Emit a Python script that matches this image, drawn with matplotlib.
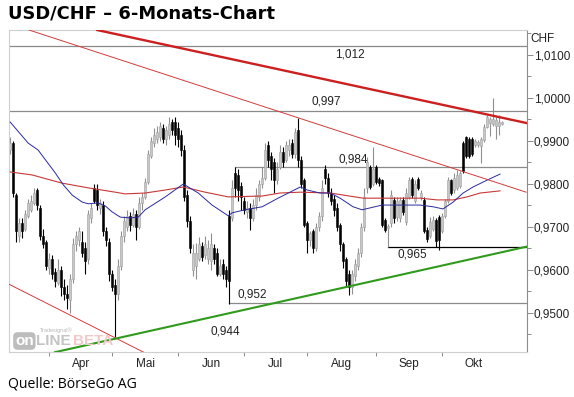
import matplotlib
matplotlib.use("Agg")
import matplotlib.pyplot as plt
from matplotlib.ticker import FixedLocator, FuncFormatter, MultipleLocator
import numpy as np

# ---------------- data (daily OHLC, trading-day index 0 = 15 Mar) ----------------
opens = [0.9880, 0.9895, 0.9775, 0.9680, 0.9710, 0.9695, 0.9725, 0.9740, 0.9755, 0.9785,
         0.9745, 0.9680, 0.9665, 0.9605, 0.9625, 0.9595, 0.9570, 0.9600, 0.9560, 0.9545,
         0.9530, 0.9580, 0.9660, 0.9670, 0.9665, 0.9650, 0.9625, 0.9720, 0.9790, 0.9785,
         0.9745, 0.9750, 0.9690, 0.9665, 0.9590, 0.9565, 0.9545, 0.9610, 0.9680, 0.9700,
         0.9725, 0.9705, 0.9730, 0.9700, 0.9755, 0.9770, 0.9805, 0.9865, 0.9895, 0.9905,
         0.9910, 0.9930, 0.9905, 0.9915, 0.9945, 0.9945, 0.9930, 0.9915, 0.9880, 0.9775,
         0.9715, 0.9600, 0.9610, 0.9625, 0.9655, 0.9635, 0.9625, 0.9620, 0.9650, 0.9640,
         0.9590, 0.9615, 0.9600, 0.9725, 0.9720, 0.9825, 0.9820, 0.9795, 0.9760, 0.9735,
         0.9745, 0.9720, 0.9750, 0.9770, 0.9800, 0.9815, 0.9890, 0.9865, 0.9850, 0.9810,
         0.9840, 0.9875, 0.9855, 0.9880, 0.9895, 0.9870, 0.9925, 0.9855, 0.9810, 0.9710,
         0.9670, 0.9690, 0.9650, 0.9700, 0.9725, 0.9835, 0.9815, 0.9780, 0.9765, 0.9745,
         0.9705, 0.9660, 0.9625, 0.9590, 0.9560, 0.9585, 0.9610, 0.9640, 0.9700, 0.9790,
         0.9840, 0.9800, 0.9840, 0.9812, 0.9809, 0.9716, 0.9698, 0.9709, 0.9763, 0.9723,
         0.9720, 0.9763, 0.9712, 0.9770, 0.9812, 0.9760, 0.9812, 0.9770, 0.9763, 0.9693,
         0.9680, 0.9695, 0.9716, 0.9723, 0.9690, 0.9725, 0.9760, 0.9810, 0.9785, 0.9790,
         0.9795, 0.9895, 0.9909, 0.9905, 0.9905, 0.9890, 0.9890, 0.9888, 0.9902, 0.9933,
         0.9942, 0.9940, 0.9935, 0.9935, 0.9940]
highs = [0.9910, 0.9900, 0.9780, 0.9720, 0.9720, 0.9740, 0.9765, 0.9775, 0.9790, 0.9790,
         0.9750, 0.9695, 0.9670, 0.9640, 0.9635, 0.9605, 0.9625, 0.9610, 0.9580, 0.9565,
         0.9590, 0.9675, 0.9690, 0.9700, 0.9690, 0.9665, 0.9740, 0.9755, 0.9800, 0.9800,
         0.9765, 0.9760, 0.9700, 0.9675, 0.9600, 0.9580, 0.9625, 0.9690, 0.9725, 0.9740,
         0.9735, 0.9745, 0.9740, 0.9770, 0.9780, 0.9815, 0.9880, 0.9910, 0.9930, 0.9935,
         0.9945, 0.9940, 0.9935, 0.9955, 0.9952, 0.9955, 0.9945, 0.9925, 0.9890, 0.9785,
         0.9725, 0.9660, 0.9662, 0.9676, 0.9665, 0.9680, 0.9670, 0.9686, 0.9660, 0.9650,
         0.9625, 0.9625, 0.9610, 0.9740, 0.9810, 0.9840, 0.9835, 0.9805, 0.9770, 0.9760,
         0.9755, 0.9765, 0.9790, 0.9810, 0.9840, 0.9895, 0.9900, 0.9875, 0.9860, 0.9850,
         0.9890, 0.9885, 0.9900, 0.9905, 0.9905, 0.9930, 0.9953, 0.9865, 0.9815, 0.9715,
         0.9690, 0.9695, 0.9710, 0.9735, 0.9810, 0.9845, 0.9825, 0.9790, 0.9775, 0.9755,
         0.9710, 0.9665, 0.9630, 0.9600, 0.9600, 0.9625, 0.9650, 0.9710, 0.9790, 0.9863,
         0.9845, 0.9886, 0.9845, 0.9816, 0.9812, 0.9720, 0.9708, 0.9786, 0.9770, 0.9770,
         0.9770, 0.9770, 0.9790, 0.9816, 0.9816, 0.9809, 0.9816, 0.9786, 0.9770, 0.9700,
         0.9723, 0.9725, 0.9720, 0.9728, 0.9733, 0.9765, 0.9816, 0.9812, 0.9826, 0.9833,
         0.9830, 0.9900, 0.9912, 0.9909, 0.9909, 0.9905, 0.9902, 0.9909, 0.9940, 0.9960,
         0.9956, 1.0000, 0.9955, 0.9960, 0.9946]
lows = [0.9870, 0.9770, 0.9665, 0.9665, 0.9675, 0.9690, 0.9720, 0.9735, 0.9750, 0.9740,
        0.9670, 0.9650, 0.9600, 0.9590, 0.9580, 0.9560, 0.9565, 0.9540, 0.9530, 0.9510,
        0.9500, 0.9570, 0.9645, 0.9655, 0.9630, 0.9590, 0.9615, 0.9710, 0.9755, 0.9740,
        0.9730, 0.9680, 0.9655, 0.9575, 0.9550, 0.9444, 0.9530, 0.9600, 0.9665, 0.9690,
        0.9690, 0.9700, 0.9670, 0.9695, 0.9740, 0.9765, 0.9800, 0.9860, 0.9885, 0.9895,
        0.9900, 0.9895, 0.9890, 0.9905, 0.9915, 0.9890, 0.9885, 0.9865, 0.9760, 0.9700,
        0.9640, 0.9585, 0.9580, 0.9620, 0.9620, 0.9625, 0.9615, 0.9600, 0.9615, 0.9585,
        0.9585, 0.9580, 0.9560, 0.9520, 0.9715, 0.9770, 0.9760, 0.9740, 0.9730, 0.9720,
        0.9693, 0.9715, 0.9740, 0.9760, 0.9790, 0.9810, 0.9840, 0.9810, 0.9780, 0.9800,
        0.9835, 0.9840, 0.9850, 0.9865, 0.9860, 0.9860, 0.9840, 0.9790, 0.9700, 0.9640,
        0.9655, 0.9640, 0.9645, 0.9690, 0.9715, 0.9800, 0.9770, 0.9750, 0.9725, 0.9690,
        0.9645, 0.9605, 0.9560, 0.9542, 0.9545, 0.9575, 0.9600, 0.9630, 0.9690, 0.9779,
        0.9788, 0.9795, 0.9800, 0.9795, 0.9700, 0.9688, 0.9653, 0.9700, 0.9710, 0.9715,
        0.9712, 0.9728, 0.9705, 0.9765, 0.9768, 0.9756, 0.9785, 0.9763, 0.9686, 0.9665,
        0.9675, 0.9690, 0.9653, 0.9647, 0.9685, 0.9720, 0.9756, 0.9775, 0.9780, 0.9786,
        0.9790, 0.9826, 0.9860, 0.9860, 0.9865, 0.9886, 0.9886, 0.9849, 0.9898, 0.9930,
        0.9912, 0.9935, 0.9905, 0.9915, 0.9938]
closes = [0.9895, 0.9780, 0.9690, 0.9710, 0.9690, 0.9730, 0.9755, 0.9760, 0.9780, 0.9750,
          0.9680, 0.9660, 0.9610, 0.9625, 0.9590, 0.9575, 0.9600, 0.9560, 0.9545, 0.9535,
          0.9580, 0.9660, 0.9680, 0.9690, 0.9640, 0.9620, 0.9730, 0.9745, 0.9760, 0.9750,
          0.9755, 0.9690, 0.9670, 0.9590, 0.9560, 0.9545, 0.9610, 0.9680, 0.9715, 0.9725,
          0.9705, 0.9730, 0.9700, 0.9755, 0.9770, 0.9805, 0.9870, 0.9900, 0.9915, 0.9920,
          0.9935, 0.9905, 0.9925, 0.9940, 0.9925, 0.9915, 0.9905, 0.9880, 0.9770, 0.9715,
          0.9650, 0.9640, 0.9640, 0.9660, 0.9630, 0.9660, 0.9650, 0.9660, 0.9625, 0.9590,
          0.9610, 0.9590, 0.9580, 0.9575, 0.9790, 0.9790, 0.9785, 0.9770, 0.9740, 0.9745,
          0.9720, 0.9750, 0.9775, 0.9800, 0.9815, 0.9880, 0.9855, 0.9835, 0.9810, 0.9835,
          0.9875, 0.9850, 0.9890, 0.9890, 0.9870, 0.9920, 0.9855, 0.9800, 0.9705, 0.9670,
          0.9685, 0.9650, 0.9700, 0.9725, 0.9790, 0.9815, 0.9780, 0.9760, 0.9740, 0.9700,
          0.9660, 0.9620, 0.9575, 0.9560, 0.9590, 0.9615, 0.9640, 0.9700, 0.9770, 0.9850,
          0.9793, 0.9835, 0.9805, 0.9802, 0.9705, 0.9693, 0.9703, 0.9775, 0.9720, 0.9760,
          0.9763, 0.9735, 0.9780, 0.9810, 0.9775, 0.9800, 0.9790, 0.9780, 0.9690, 0.9672,
          0.9712, 0.9716, 0.9668, 0.9670, 0.9725, 0.9760, 0.9810, 0.9780, 0.9815, 0.9822,
          0.9825, 0.9830, 0.9865, 0.9865, 0.9870, 0.9900, 0.9898, 0.9905, 0.9933, 0.9956,
          0.9952, 0.9950, 0.9948, 0.9945, 0.9943]

# moving averages (index, price) as drawn by the charting tool
ma_fast_x = [0, 6, 9.3, 12.3, 15, 17.7, 20.7, 24, 26, 29.3, 31.7, 34, 36.7, 40, 42.7, 45,
             51.7, 57.7, 62.7, 67.3, 72.7, 74, 78.3, 84, 89.3, 96.7, 99, 103.3, 106.7, 110,
             114.3, 117.3, 124, 129.3, 136.7, 141, 144.3, 147.7, 151, 154.3, 159, 163.3]
ma_fast_y = [0.9944, 0.9895, 0.9879, 0.9851, 0.9826, 0.9798, 0.9774, 0.9758, 0.9754, 0.9756,
             0.9749, 0.9735, 0.9723, 0.9721, 0.9723, 0.9740, 0.9770, 0.9800, 0.9779, 0.9751,
             0.9726, 0.9733, 0.9740, 0.9747, 0.9767, 0.9793, 0.9786, 0.9779, 0.9779, 0.9767,
             0.9747, 0.9740, 0.9751, 0.9751, 0.9751, 0.9747, 0.9742, 0.9758, 0.9779, 0.9793,
             0.9809, 0.9823]
ma_slow_x = [0, 7.3, 17.3, 26, 35, 38.3, 45, 51.7, 57.7, 65, 72.7, 84, 90, 96.7, 106.7,
             117.7, 136.7, 142.3, 147.7, 152.3, 156.7, 163.3]
ma_slow_y = [0.9828, 0.9821, 0.9802, 0.9791, 0.9781, 0.9777, 0.9779, 0.9786, 0.9793, 0.9781,
             0.9770, 0.9772, 0.9779, 0.9781, 0.9779, 0.9767, 0.9767, 0.9763, 0.9763, 0.9770,
             0.9779, 0.9784]

# trend lines (index, price) end points
trend_main_x, trend_main_y = [29, 172], [1.0158, 0.9942]
trend_upper_x, trend_upper_y = [6.3, 172], [1.0158, 0.9781]
trend_lower_x, trend_lower_y = [-1, 45], [0.9569, 0.9407]
trend_support_x, trend_support_y = [15, 172], [0.9409, 0.9654]

# horizontal levels: (price, start index, label, label index, label price)
levels = [(1.0120, -1, "1,012", 113.3, 1.0102),
          (0.9970, -1, "0,997", 105.3, 0.9991),
          (0.9840, 75, "0,984", 114.3, 0.9856),
          (0.9653, 126, "0,965", 134.0, 0.9637),
          (0.9523, 73, "0,952", 80.7, 0.9544)]
extra_label = ("0,944", 71.7, 0.9456)

month_starts = [13, 34, 56, 78, 99, 122, 144, 165]
month_names = ["Apr", "Mai", "Jun", "Jul", "Aug", "Sep", "Okt"]

# ---------------- figure ----------------
W, H = 574, 397
fig = plt.figure(figsize=(W / 100, H / 100), dpi=100)
ax = fig.add_axes([9 / W, 1 - 352 / H, (527 - 9) / W, (352 - 30) / H])
ax.set_xlim(-0.4, 172.3)
ax.set_ylim(0.94093, 1.01581)

font = "Liberation Sans"

# levels
for price, start, lab, lx, ly in levels:
    col = "black" if lab == "0,965" else "#8a8a8a"
    ax.plot([start, 173], [price, price], color=col, lw=0.9, zorder=1)
    ax.text(lx, ly, lab, ha="center", va="center", fontsize=8.5, family=font, color="#222222", zorder=5)
ax.text(extra_label[1], extra_label[2], extra_label[0], ha="center", va="center",
        fontsize=8.5, family=font, color="#222222", zorder=5)

# candles
x = np.arange(len(opens))
o = np.array(opens); h = np.array(highs); l = np.array(lows); c = np.array(closes)
down = c < o
for i in range(len(x)):
    if down[i]:
        wick_c, face, edge = "black", "black", "black"
    else:
        wick_c, face, edge = "#909090", "#c8c8c8", "#a0a0a0"
    ax.vlines(x[i], l[i], h[i], colors=wick_c, lw=0.8, zorder=2)
    bot = min(o[i], c[i]); ht = max(abs(c[i] - o[i]), 0.0003)
    ax.bar(x[i], ht, bottom=bot, width=0.66, color=face, edgecolor=edge, lw=0.4, zorder=2.5)

# moving averages
ax.plot(ma_slow_x, ma_slow_y, color="#c83838", lw=0.8, zorder=3)
ax.plot(ma_fast_x, ma_fast_y, color="#2a2aa0", lw=0.7, zorder=3)

# trend lines
ax.plot(trend_upper_x, trend_upper_y, color="#d23c3c", lw=0.7, zorder=3)
ax.plot(trend_lower_x, trend_lower_y, color="#d23c3c", lw=0.7, zorder=3)
ax.plot(trend_main_x, trend_main_y, color="#cc1f1f", lw=1.7, zorder=4)
ax.plot(trend_support_x, trend_support_y, color="#2f9a1c", lw=1.5, zorder=4)

# axes styling
for s in ["left", "top", "bottom"]:
    ax.spines[s].set_color("#cfcfcf")
    ax.spines[s].set_linewidth(0.8)
ax.spines["right"].set_color("#8c8c8c")
ax.spines["right"].set_linewidth(0.8)

ax.yaxis.tick_right()
ax.yaxis.set_major_locator(MultipleLocator(0.01))
ax.yaxis.set_minor_locator(MultipleLocator(0.005))
ax.yaxis.set_major_formatter(FuncFormatter(lambda v, p: f"{v:.4f}".replace(".", ",")))
ax.tick_params(axis="y", which="major", length=4, width=0.7, color="#8c8c8c",
               labelsize=8.5, pad=1, labelcolor="#222222")
ax.tick_params(axis="y", which="minor", length=3, width=0.7, color="#8c8c8c")
for lbl in ax.get_yticklabels():
    lbl.set_family(font)

ax.xaxis.set_major_locator(FixedLocator(month_starts[:-1]))
mids = [(month_starts[k] + month_starts[k + 1]) / 2 for k in range(len(month_names))]
ax.xaxis.set_minor_locator(FixedLocator(mids))
ax.xaxis.set_major_formatter(FuncFormatter(lambda v, p: ""))
ax.xaxis.set_minor_formatter(FuncFormatter(lambda v, p: month_names[mids.index(v)] if v in mids else ""))
ax.tick_params(axis="x", which="major", length=3, width=0.7, color="#8c8c8c")
ax.tick_params(axis="x", which="minor", length=0, labelsize=8.5, pad=4, labelcolor="#222222")
for lbl in ax.get_xticklabels(minor=True):
    lbl.set_family(font)

# texts outside the axes
fig.text(530 / W, 1 - 39 / H, "CHF", fontsize=8.5, family=font, va="center", ha="left", color="#222222")
fig.text(8 / W, 1 - 19 / H, "USD/CHF \u2013 6-Monats-Chart", fontsize=12.9, family="DejaVu Sans",
         weight="bold", va="baseline", ha="left", color="black")
fig.text(8 / W, 1 - 388 / H, "Quelle: B\u00f6rseGo AG", fontsize=10.1, family="Open Sans",
         va="baseline", ha="left", color="black")

# watermark
fig.text(40 / W, 1 - 330 / H, "Tradesignal\u00ae", fontsize=4, family=font, color="#b8b8b8", va="center")
fig.text(15 / W, 1 - 341 / H, "on", fontsize=11, family=font, weight="bold", color="white", va="center",
         bbox=dict(boxstyle="round,pad=0.12,rounding_size=0.3", fc="#bdbdbd", ec="none"))
fig.text(36 / W, 1 - 341 / H, "LINE", fontsize=11, family=font, weight="bold", color="#c4c4c4", va="center")
fig.text(73 / W, 1 - 341 / H, "BETA", fontsize=11, family=font, weight="bold", color="#f2c8c8", va="center")

fig.savefig("out.png", dpi=100)
